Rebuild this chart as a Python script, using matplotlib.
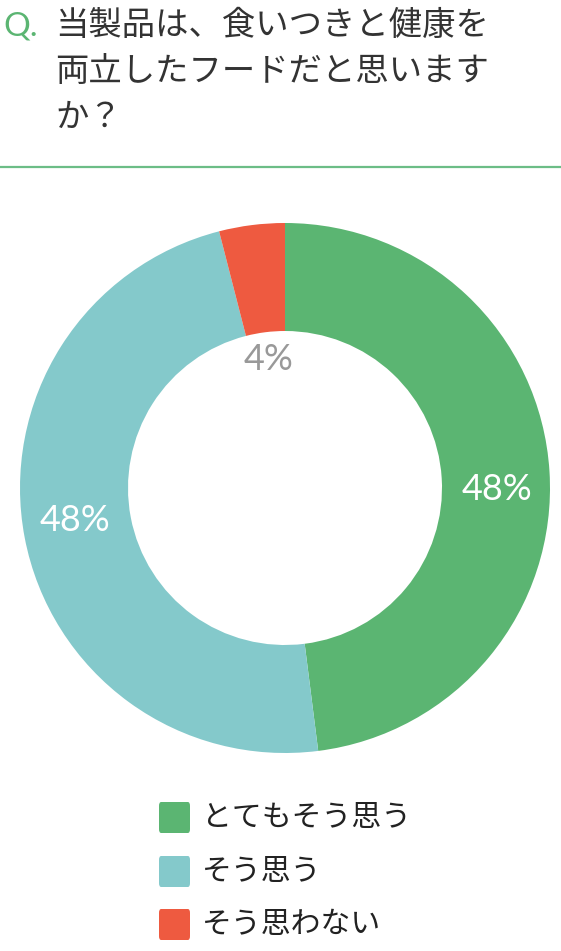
import numpy as np
import matplotlib
matplotlib.use('Agg')
import matplotlib.pyplot as plt
from matplotlib.patches import FancyBboxPatch

plt.rcParams['font.family'] = ['Noto Sans CJK JP', 'DejaVu Sans']

# data
labels = ['とてもそう思う', 'そう思う', 'そう思わない']
values = [48, 48, 4]
colors = ['#5bb572', '#84c9cb', '#ee5a40']
pct_colors = ['white', 'white', '#999999']
pct_radius = [0.80, 0.80, 0.49]
pct_shift = [-4, -2, 0]   # degrees, nudges label off the mid-angle
question = ['当製品は、食いつきと健康を', '両立したフードだと思います', 'か？']

W, H = 561, 951
fig = plt.figure(figsize=(W / 100, H / 100), dpi=100)

def fx(px):
    return px / W

def fy(py):
    return 1 - py / H

# title
fig.text(fx(3), fy(35), 'Q.', color='#5bb572', fontsize=24, family='Lato',
         va='baseline')
for i, line in enumerate(question):
    fig.text(fx(55), fy(35 + 46 * i), line, color='#333333', fontsize=24, va='baseline')

fig.add_artist(plt.Line2D([0, 1], [fy(167), fy(167)], color='#6cbd86', lw=1.6))

# donut
cx, cy, r = 285, 488, 265
ax = fig.add_axes([fx(cx - r), fy(cy + r), 2 * r / W, 2 * r / H])
wedges, _ = ax.pie(values, colors=colors, startangle=90, counterclock=False,
                   radius=1, wedgeprops=dict(width=1 - 157 / 265, linewidth=0))
ax.set_xlim(-1, 1)
ax.set_ylim(-1, 1)
ax.set_aspect('equal')
ax.axis('off')

for w, v, c, pr, sh in zip(wedges, values, pct_colors, pct_radius, pct_shift):
    ang = np.deg2rad((w.theta1 + w.theta2) / 2 + sh)
    ax.text(pr * np.cos(ang), pr * np.sin(ang), f'{v}%', color=c,
            fontsize=26, family='Lato', ha='center', va='center')

# legend
rows = [802, 856, 909]
for lab, col, y in zip(labels, colors, rows):
    box = FancyBboxPatch((fx(159), fy(y + 31)), 31 / W, 31 / H,
                         boxstyle='round,pad=0,rounding_size=0.004',
                         transform=fig.transFigure, color=col, lw=0)
    fig.add_artist(box)
    fig.text(fx(202), fy(y + 15.5), lab, color='#222222', fontsize=21.5, va='center')

fig.savefig('out.png', dpi=100)
